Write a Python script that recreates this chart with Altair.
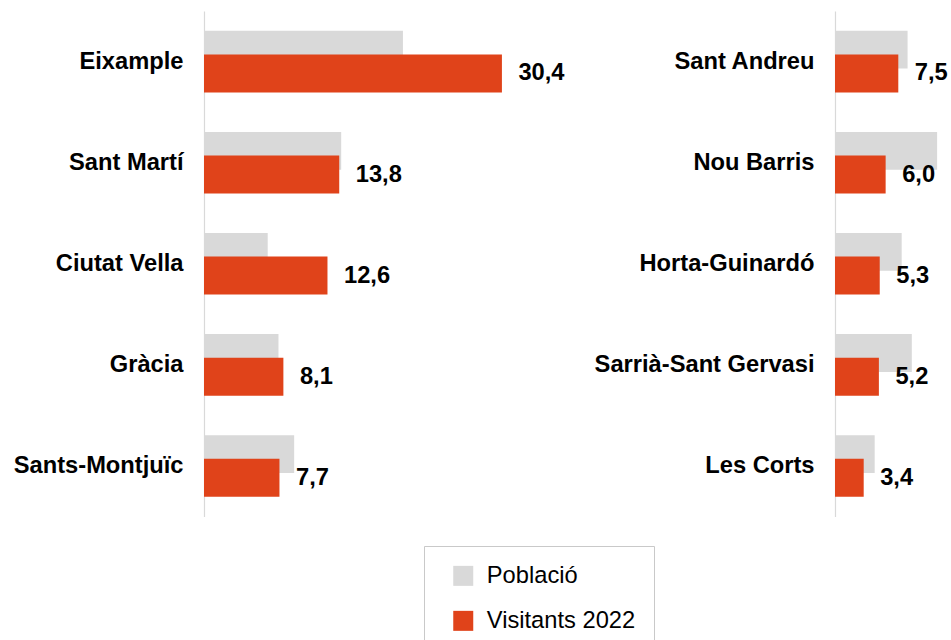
import altair as alt
import pandas as pd

# ---- data ----
series = ["Població", "Visitants 2022"]
colors = ["#d9d9d9", "#e0431a"]

left_districts = ["Eixample", "Sant Martí", "Ciutat Vella", "Gràcia", "Sants-Montjuïc"]
left_poblacio = [20.3, 14.0, 6.5, 7.6, 9.2]
left_visitants = [30.4, 13.8, 12.6, 8.1, 7.7]

right_districts = ["Sant Andreu", "Nou Barris", "Horta-Guinardó", "Sarrià-Sant Gervasi", "Les Corts"]
right_poblacio = [8.6, 12.1, 7.9, 9.1, 4.7]
right_visitants = [7.5, 6.0, 5.3, 5.2, 3.4]

FONT = "Liberation Sans"
FS = 23.7
H = 505.5
OFF = 11.85


def make_df(districts, pob, vis):
    rows = []
    for d, p, v in zip(districts, pob, vis):
        rows.append({"districte": d, "serie": series[0], "valor": p})
        rows.append({"districte": d, "serie": series[1], "valor": v})
    return pd.DataFrame(rows)


def panel(districts, pob, vis, xmax, width, clip):
    df = make_df(districts, pob, vis)
    base = alt.Chart(df).encode(
        y=alt.Y(
            "districte:N",
            sort=districts,
            scale=alt.Scale(paddingInner=0, paddingOuter=0),
            axis=alt.Axis(
                title=None,
                ticks=False,
                tickSize=0,
                labelPadding=21,
                labelFontSize=FS,
                labelFontWeight="bold",
                labelFont=FONT,
                labelColor="black",
                labelLimit=400,
                domainColor="#d9d9d9",
                domainWidth=1.2,
                grid=False,
            ),
        ),
        x=alt.X("valor:Q", scale=alt.Scale(domain=[0, xmax]), axis=None),
    )
    color = alt.Color(
        "serie:N",
        scale=alt.Scale(domain=series, range=colors),
        legend=alt.Legend(
            title=None,
            orient="none",
            legendX=220,
            legendY=535,
            direction="vertical",
            symbolType="square",
            symbolSize=400,
            symbolStrokeWidth=0,
            symbolOffset=9.4,
            labelOffset=11.7,
            labelFontSize=FS,
            labelFont=FONT,
            labelColor="black",
            rowPadding=20,
            padding=18,
            strokeColor="#c9c9c9",
            fillColor="white",
        ),
    )
    gray = base.transform_filter(alt.datum.serie == series[0]).mark_bar(
        size=37.8, yOffset=-OFF
    ).encode(color=color)
    red = base.transform_filter(alt.datum.serie == series[1]).mark_bar(
        size=38, yOffset=OFF
    ).encode(color=color)
    text = base.transform_filter(alt.datum.serie == series[1]).transform_calculate(
        etiqueta="replace(format(datum.valor, '.1f'), '.', ',')"
    ).mark_text(
        align="left",
        baseline="middle",
        dx=16.5,
        yOffset=OFF,
        fontSize=FS,
        fontWeight="bold",
        font=FONT,
        color="black",
        clip=clip,
    ).encode(text="etiqueta:N")
    return alt.layer(gray, red, text).properties(width=width, height=H)


left = panel(left_districts, left_poblacio, left_visitants, 370 / 9.8, 370, False)
right = panel(right_districts, right_poblacio, right_visitants, 115.7 / 8.44, 115.7, True)

chart = (
    alt.hconcat(left, right, spacing=20)
    .properties(padding={"left": 13, "top": 11, "right": 0, "bottom": 0})
    .configure(font=FONT)
    .configure_view(stroke="transparent", strokeWidth=0)
)

chart.save("out.html", embed_options={"renderer": "svg", "actions": False})
